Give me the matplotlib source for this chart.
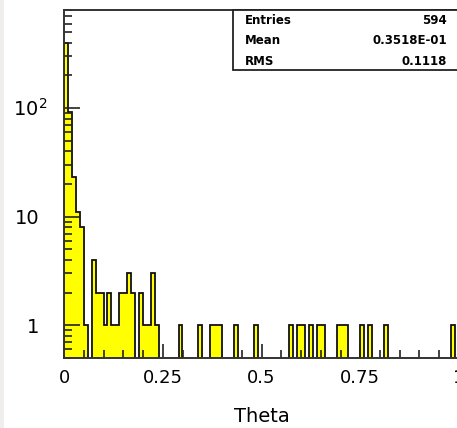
import numpy as np
import matplotlib
matplotlib.use("Agg")
import matplotlib.pyplot as plt
from matplotlib.patches import Rectangle
from matplotlib.transforms import offset_copy, blended_transform_factory

# histogram of Theta, 100 bins on [0, 1]
bin_edges = np.linspace(0.0, 1.0, 101)
counts = [395, 93, 23, 11, 8, 1, 0, 4, 2, 2,
          1, 2, 1, 1, 2, 2, 3, 2, 0, 2,
          1, 1, 3, 1, 0, 0, 0, 0, 0, 1,
          0, 0, 0, 0, 1, 0, 0, 1, 1, 1,
          0, 0, 0, 1, 0, 0, 0, 0, 1, 0,
          0, 0, 0, 0, 0, 0, 0, 1, 0, 1,
          1, 0, 1, 0, 1, 1, 0, 0, 0, 1,
          1, 1, 0, 0, 0, 1, 0, 1, 0, 0,
          0, 1, 0, 0, 0, 0, 0, 0, 0, 0,
          0, 0, 0, 0, 0, 0, 0, 0, 1, 0]

stat_names = ["Entries", "Mean", "RMS"]
stat_values = ["594", "0.3518E-01", "0.1118"]

xticks = [0, 0.25, 0.5, 0.75, 1]
xticklabels = ["0", "0.25", "0.5", "0.75", "1"]
yticks = [1, 10, 100]
yticklabels = ["1", "10", r"$\mathregular{10^2}$"]

W, H = 457, 428
fig = plt.figure(figsize=(W / 100, H / 100), dpi=100)
fig.patch.set_facecolor("white")
fig.patches.append(Rectangle((0, 0), 4 / W, 1, transform=fig.transFigure,
                             facecolor="#efeeec", edgecolor="none"))

# axes frame in pixels: left 64, right 459 (past the image edge), top 10, bottom 358
L, R, T, B = 64, 459, 10, 358
ax = fig.add_axes([L / W, 1 - B / H, (R - L) / W, (B - T) / H])

vals = np.array(counts, dtype=float)
vals = np.where(vals > 0, vals, 1e-3)  # empty bins drop below the axis
ax.stairs(vals, bin_edges, baseline=1e-3, fill=True,
          facecolor="#ffff00", edgecolor="#111111", linewidth=1.3)

ax.set_yscale("log")
ax.set_xlim(0, 1)
ax.set_ylim(0.5, 800)

for s in ax.spines.values():
    s.set_linewidth(1.4)
    s.set_color("#333333")

ax.set_xticks(xticks)
ax.set_xticklabels(xticklabels, fontsize=13)
ax.set_xticks(np.arange(0, 1.0001, 0.05), minor=True)
ax.tick_params(axis="x", which="major", direction="in", length=10, width=1.2,
               pad=8, top=False, color="#222222")
ax.tick_params(axis="x", which="minor", direction="in", length=5.5, width=1.2,
               top=False, color="#222222")

ax.set_yticks(yticks)
ax.set_yticklabels([])
ax.yaxis.set_minor_locator(matplotlib.ticker.LogLocator(base=10, subs=np.arange(2, 10)))
ax.yaxis.set_minor_formatter(matplotlib.ticker.NullFormatter())
ax.tick_params(axis="y", which="major", direction="in", length=11.5, width=1.2,
               right=False, color="#222222")
ax.tick_params(axis="y", which="minor", direction="in", length=5.8, width=1.2,
               right=False, color="#222222")

# y labels placed by hand, like the original
tr = blended_transform_factory(ax.transAxes, ax.transData)
tr = offset_copy(tr, fig=fig, y=-7.5, units="dots")
ylab_x = [33, 27.5, 13]
ylab_ha = ["center", "center", "left"]
for yv, lab, px, ha in zip(yticks, yticklabels, ylab_x, ylab_ha):
    ax.text((px - L) / (R - L), yv, lab, transform=tr, fontsize=14,
            ha=ha, va="baseline", clip_on=False)

ax.set_xlabel("Theta", fontsize=14, va="center")
ax.xaxis.set_label_coords(0.5, -(416 - B) / (B - T))

# statistics box
bx0, bx1, by0, by1 = 233, 459, 10, 69.5
fig.patches.append(Rectangle((bx0 / W, 1 - by1 / H), (bx1 - bx0) / W, (by1 - by0) / H,
                             transform=fig.transFigure, facecolor="white",
                             edgecolor="#222222", linewidth=1.3, zorder=5))
row_y = [20, 41, 61.5]
for name, val, ry in zip(stat_names, stat_values, row_y):
    fig.text(245 / W, 1 - ry / H, name, fontsize=8.5, fontweight="bold",
             ha="left", va="center", zorder=6)
    fig.text(447 / W, 1 - ry / H, val, fontsize=8.5, fontweight="bold",
             ha="right", va="center", zorder=6)

fig.savefig("out.png", dpi=100)
